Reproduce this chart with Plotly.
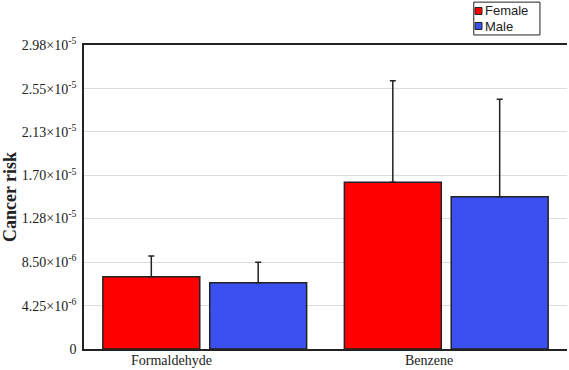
import plotly.graph_objects as go

categories = ["Formaldehyde", "Benzene"]
female = [7.09e-6, 1.634e-5]
female_err = [2.03e-6, 9.96e-6]
male = [6.50e-6, 1.493e-5]
male_err = [2.00e-6, 9.55e-6]

series_names = ["Female", "Male"]
series_colors = ["#ff0000", "#3a50f0"]

tick_vals = [0, 4.25e-6, 8.50e-6, 1.28e-5, 1.70e-5, 2.13e-5, 2.55e-5, 2.98e-5]
tick_text = ["0", "4.25×10<sup>-6</sup>", "8.50×10<sup>-6</sup>", "1.28×10<sup>-5</sup>",
             "1.70×10<sup>-5</sup>", "2.13×10<sup>-5</sup>", "2.55×10<sup>-5</sup>",
             "2.98×10<sup>-5</sup>"]

fig = go.Figure()
for name, vals, errs, color in zip(series_names, [female, male], [female_err, male_err], series_colors):
    fig.add_trace(go.Bar(
        x=categories, y=vals, name=name, showlegend=False,
        marker=dict(color=color, line=dict(color="#222222", width=1.5)),
        error_y=dict(type="data", array=errs, arrayminus=[0, 0], symmetric=False,
                     color="#222222", thickness=1.5, width=3),
    ))

# category labels sit right-aligned just past the group centre in the original
for cat in categories:
    fig.add_annotation(text=cat, x=cat, y=0, xref="x", yref="y",
                       xanchor="right", yanchor="top", xshift=9, yshift=-2,
                       showarrow=False,
                       font=dict(family="Liberation Serif", size=14, color="#222222"))

# hand-drawn legend box like the original
fig.add_shape(type="rect", xref="paper", yref="paper", x0=0.807, x1=0.944, y0=1.033, y1=1.141,
              line=dict(color="#222222", width=1), fillcolor="white")
for i, (name, color) in enumerate(zip(series_names, series_colors)):
    yc = 1.112 - i * 0.0495
    fig.add_shape(type="rect", xref="paper", yref="paper", x0=0.8095, x1=0.824,
                  y0=yc - 0.0115, y1=yc + 0.0115, line=dict(color="#222222", width=1),
                  fillcolor=color)
    fig.add_annotation(text=name, xref="paper", yref="paper", x=0.826, y=yc,
                       xanchor="left", yanchor="middle", showarrow=False,
                       font=dict(family="Liberation Sans", size=13, color="#222222"))

fig.update_layout(
    width=569, height=370,
    margin=dict(l=84, r=2, t=45, b=21, autoexpand=False),
    barmode="group", bargap=0.115, bargroupgap=0.093,
    plot_bgcolor="white", paper_bgcolor="white",
    font=dict(family="Liberation Serif", size=12, color="#222222"),
)
fig.update_xaxes(
    showline=True, linecolor="#222222", linewidth=1.5, mirror=True,
    ticks="", showgrid=False, automargin=False, showticklabels=False,
)
fig.update_yaxes(
    range=[0, 2.98e-5], tickvals=tick_vals, ticktext=tick_text,
    showline=True, linecolor="#222222", linewidth=1.5, automargin=False,
    showgrid=True, gridcolor="#dcdcdc", gridwidth=1,
    ticks="", zeroline=False, ticklabelstandoff=3,
    tickfont=dict(family="Liberation Serif", size=14),
    title=dict(text="<b>Cancer risk</b>", font=dict(family="Liberation Serif", size=18),
               standoff=6),
)

# page body has an 8px default margin; drop it so the figure fills the window
fig.write_html("out.html", config={"displayModeBar": False},
               post_script="document.body.style.margin='0';")
